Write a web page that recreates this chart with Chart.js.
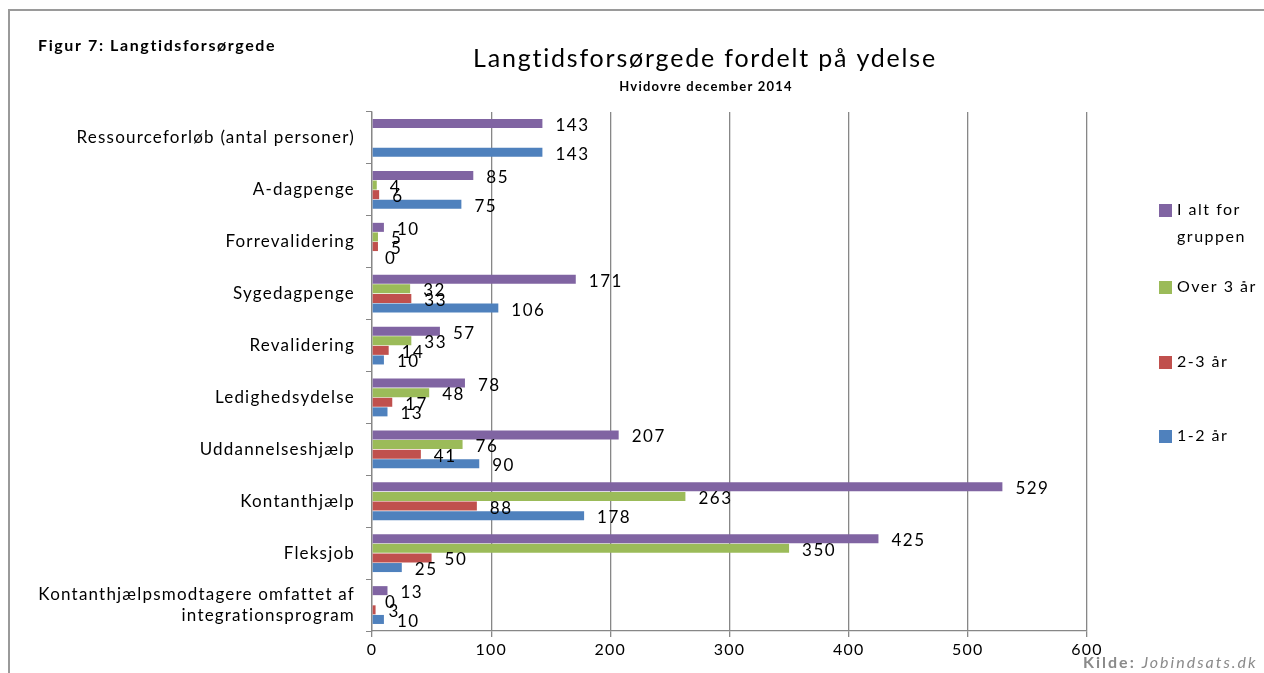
<!DOCTYPE html>
<html lang="da">
<head>
<meta charset="utf-8">
<title>Langtidsforsørgede fordelt på ydelse</title>
<script src="https://cdn.jsdelivr.net/npm/chart.js@4.4.1/dist/chart.umd.min.js"></script>
<style>
    html, body { margin: 0; padding: 0; background: #fff; }
    #wrap { position: relative; width: 1264px; height: 673px; }
</style>
</head>
<body>
<div id="wrap"><canvas id="chart" width="1264" height="673"></canvas></div>
<script>
// --- DATA ---
const categories = [
    'Ressourceforløb (antal personer)',
    'A-dagpenge',
    'Forrevalidering',
    'Sygedagpenge',
    'Revalidering',
    'Ledighedsydelse',
    'Uddannelseshjælp',
    'Kontanthjælp',
    'Fleksjob',
    ['Kontanthjælpsmodtagere omfattet af', 'integrationsprogram']
];
const seriesNames = ['I alt for gruppen', 'Over 3 år', '2-3 år', '1-2 år'];
const iAlt    = [143, 85, 10, 171, 57, 78, 207, 529, 425, 13];
const over3   = [null, 4, 5, 32, 33, 48, 76, 263, 350, 0];
const aar2til3 = [null, 6, 5, 33, 14, 17, 41, 88, 50, 3];
const aar1til2 = [143, 75, 0, 106, 10, 13, 90, 178, 25, 10];
const xTicks = [0, 100, 200, 300, 400, 500, 600];

const colors = ['#8064a2', '#9bbb59', '#c0504d', '#4f81bd'];
const FONT = 'Lato, "Open Sans", sans-serif';

// --- TEXT + LEGEND OVERLAY ---
const overlay = {
    id: 'overlay',
    beforeDraw(chart) {
        const ctx = chart.ctx;
        ctx.save();
        ctx.fillStyle = '#fff';
        ctx.fillRect(0, 0, chart.width, chart.height);
        // frame of the figure
        ctx.strokeStyle = '#9a9a9a';
        ctx.lineWidth = 2;
        ctx.beginPath();
        ctx.moveTo(9, chart.height);
        ctx.lineTo(9, 10);
        ctx.lineTo(chart.width, 10);
        ctx.stroke();
        ctx.restore();
        ctx.letterSpacing = '1.2px';
    },
    afterDatasetsDraw(chart) {
        const ctx = chart.ctx;
        ctx.save();
        ctx.letterSpacing = '1.5px';
        ctx.font = '17px ' + FONT;
        ctx.fillStyle = '#000';
        ctx.textAlign = 'left';
        ctx.textBaseline = 'middle';
        chart.data.datasets.forEach((ds, i) => {
            const meta = chart.getDatasetMeta(i);
            meta.data.forEach((bar, j) => {
                const v = ds.data[j];
                if (v === null) return;
                ctx.fillText(String(v), bar.x + 13, bar.y + 2);
            });
        });
        ctx.restore();
    },
    afterDraw(chart) {
        const ctx = chart.ctx;
        ctx.save();
        ctx.fillStyle = '#000';
        ctx.textBaseline = 'middle';

        ctx.letterSpacing = '1.6px';
        ctx.font = 'bold 16px ' + FONT;
        ctx.textAlign = 'left';
        ctx.fillText('Figur 7: Langtidsforsørgede', 38, 46);

        ctx.textAlign = 'center';
        ctx.letterSpacing = '1.8px';
        ctx.font = '25px ' + FONT;
        ctx.fillText('Langtidsforsørgede fordelt på ydelse', 705, 59);
        ctx.letterSpacing = '1.2px';
        ctx.font = 'bold 13px ' + FONT;
        ctx.fillText('Hvidovre december 2014', 706, 87);

        // legend
        ctx.textAlign = 'left';
        ctx.letterSpacing = '1.5px';
        ctx.font = '16px ' + FONT;
        const legendY = [210, 287, 362, 436];
        seriesNames.forEach((name, i) => {
            const y = legendY[i];
            ctx.fillStyle = colors[i];
            ctx.fillRect(1159, y - 6, 13, 13);
            ctx.fillStyle = '#000';
            if (i === 0) {
                ctx.fillText('I alt for', 1177, y);
                ctx.fillText('gruppen', 1177, y + 27);
            } else {
                ctx.fillText(name, 1177, y);
            }
        });

        // source
        ctx.textAlign = 'left';
        ctx.fillStyle = '#8a8a8a';
        ctx.letterSpacing = '2px';
        ctx.font = 'bold 16px ' + FONT;
        ctx.fillText('Kilde:', 1083, 663);
        const w = ctx.measureText('Kilde: ').width;
        ctx.font = 'italic 16px ' + FONT;
        ctx.fillText('Jobindsats.dk', 1083 + w, 663);
        ctx.restore();
    }
};

const ctx = document.getElementById('chart');
new Chart(ctx, {
    type: 'bar',
    data: {
        labels: categories,
        datasets: [iAlt, over3, aar2til3, aar1til2].map((d, i) => ({
            label: seriesNames[i],
            data: d,
            backgroundColor: colors[i],
            borderWidth: 0,
            categoryPercentage: 0.74,
            barPercentage: 0.94
        }))
    },
    options: {
        indexAxis: 'y',
        responsive: false,
        animation: false,
        events: [],
        layout: { padding: { top: 112, right: 177, bottom: 0, left: 0 } },
        plugins: {
            legend: { display: false },
            title: { display: false },
            tooltip: { enabled: false }
        },
        scales: {
            x: {
                min: xTicks[0],
                max: xTicks[xTicks.length - 1],
                afterBuildTicks: (scale) => { scale.ticks = xTicks.map(v => ({ value: v })); },
                afterFit: (scale) => { scale.height = 42; },
                grid: { color: '#878787', lineWidth: 1.3, tickLength: 6, drawTicks: true },
                border: { color: '#878787', width: 1.3 },
                ticks: { color: '#000', font: { family: FONT, size: 16 }, padding: 3 }
            },
            y: {
                afterFit: (scale) => { scale.width = 372; },
                grid: { drawOnChartArea: false, color: '#878787', tickLength: 6, offset: true },
                border: { color: '#878787', width: 1.3 },
                ticks: { color: '#000', font: { family: FONT, size: 17 }, padding: 11, lineHeight: 1.35 }
            }
        }
    },
    plugins: [overlay]
});
</script>
</body>
</html>
